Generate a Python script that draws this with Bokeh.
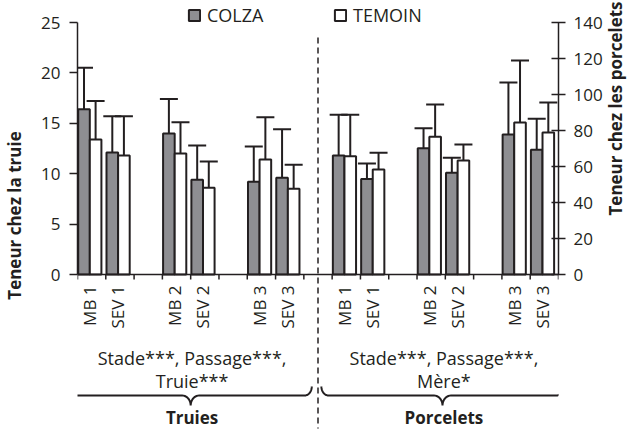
import math
from bokeh.plotting import figure
from bokeh.models import (Range1d, LinearAxis, FixedTicker, Whisker, TeeHead, Label,
                          Legend, LegendItem, PolyAnnotation, Arrow, ColumnDataSource, Span)
from bokeh.embed import file_html
from bokeh.resources import INLINE
from bokeh.core.properties import value

# ---------------- data ----------------
stages = ["MB 1", "SEV 1", "MB 2", "SEV 2", "MB 3", "SEV 3"]
series = ["COLZA", "TEMOIN"]
groups = ["Truies", "Porcelets"]
group_notes_1 = ["Stade***, Passage***,", "Stade***, Passage***,"]
group_notes_2 = ["Truie***", "Mère*"]

truie_colza = [16.4, 12.1, 14.0, 9.4, 9.2, 9.6]
truie_colza_sd = [4.1, 3.6, 3.4, 3.4, 3.5, 4.8]
truie_temoin = [13.4, 11.8, 12.0, 8.6, 11.4, 8.5]
truie_temoin_sd = [3.8, 3.9, 3.1, 2.6, 4.2, 2.4]

porc_colza = [66.1, 53.0, 70.2, 56.5, 77.8, 69.3]
porc_colza_sd = [22.6, 8.7, 11.1, 8.3, 28.9, 17.2]
porc_temoin = [65.7, 58.3, 76.5, 63.3, 84.4, 78.9]
porc_temoin_sd = [23.0, 9.3, 17.9, 8.9, 34.5, 16.7]

left_ticks = [0, 5, 10, 15, 20, 25]
right_ticks = [0, 20, 40, 60, 80, 100, 120, 140]

# ---------------- layout helpers ----------------
FONT = "Open Sans"
INK = "#231f20"
GRAY = "#8e8e92"
N_SLOTS = 17
W, H = 641, 430
FRAME_L, FRAME_R = 76, 567
Y0_PX, Y25_PX = 274, 22              # pixel rows of 0 and 25 on the left scale
PXU = (Y0_PX - Y25_PX) / 25.0
RATIO = 140 / 25.0
y_top = 25 + Y25_PX / PXU
y_bot = -(H - Y0_PX) / PXU


def slot(g, s):
    return g * 9 + (s // 2) * 3 + s % 2


centers = [slot(g, s) + 0.5 for g in range(2) for s in range(len(stages))]
labels = [stages[s] for g in range(2) for s in range(len(stages))]
boundaries = list(range(N_SLOTS + 1))

OFF = {"COLZA": 0.23, "TEMOIN": 0.64}
BAR_W = 0.41

p = figure(width=W, height=H, x_range=Range1d(0, N_SLOTS), y_range=Range1d(y_bot, y_top),
           output_backend="svg", toolbar_location=None, x_axis_location=None,
           min_border_left=FRAME_L, min_border_right=W - FRAME_R, min_border_top=0,
           min_border_bottom=0)
p.extra_y_ranges = {"porc": Range1d(y_bot * RATIO, y_top * RATIO)}
p.outline_line_color = None
p.xgrid.visible = False
p.ygrid.visible = False
p.background_fill_color = "white"
p.border_fill_color = "white"

renderers = {}
data = [
    (0, "default", truie_colza, truie_colza_sd, truie_temoin, truie_temoin_sd),
    (1, "porc", porc_colza, porc_colza_sd, porc_temoin, porc_temoin_sd),
]
for g, rng, c_vals, c_sd, t_vals, t_sd in data:
    for name, vals, sd, fill in (("COLZA", c_vals, c_sd, GRAY), ("TEMOIN", t_vals, t_sd, "white")):
        xs = [slot(g, s) + OFF[name] for s in range(len(stages))]
        src = ColumnDataSource(dict(x=xs, top=vals, upper=[v + e for v, e in zip(vals, sd)]))
        r = p.vbar(x="x", top="top", bottom=0, width=BAR_W, source=src, fill_color=fill,
                   line_color=INK, line_width=2, y_range_name=rng)
        renderers.setdefault(name, r)
        w = Whisker(base="x", upper="upper", lower="top", source=src, dimension="height",
                    y_range_name=rng, line_color=INK, line_width=2,
                    upper_head=TeeHead(size=18, line_color=INK, line_width=2), lower_head=None)
        p.add_layout(w)

# ---------------- x axis (category axis drawn on the y=0 baseline) ----------------
p.add_layout(Span(location=0, dimension="width", line_color=INK, line_width=1.5))
p.segment(x0=boundaries, y0=[0] * len(boundaries), x1=boundaries,
          y1=[-5 / PXU] * len(boundaries), line_color=INK, line_width=1.5)
p.text(x=[c - 0.07 for c in centers], y=[-11 / PXU] * len(centers), text=labels,
       angle=math.pi / 2, text_align="right", text_baseline="middle",
       text_font=value(FONT), text_font_size="17px", text_color=INK)

# ---------------- y axes ----------------
ya = p.yaxis[0]
ya.ticker = FixedTicker(ticks=left_ticks)
ya.bounds = (0, 25)
ya.major_tick_out = 8
ya.major_tick_in = 0
ya.major_label_standoff = 9
ya.axis_label = "Teneur chez la truie"
ya.axis_label_standoff = 12

ra = LinearAxis(y_range_name="porc", ticker=FixedTicker(ticks=right_ticks))
ra.bounds = (0, 140)
ra.major_tick_out = 7
ra.major_tick_in = 7
ra.major_label_standoff = 8
ra.axis_label = "Teneur chez les porcelets"
ra.axis_label_standoff = 10
if "axis_label_orientation" in LinearAxis.properties():
    ra.axis_label_orientation = math.pi / 2
p.add_layout(ra, "right")

for ax in (ya, ra):
    ax.major_label_text_font = FONT
    ax.major_label_text_font_size = "17px"
    ax.major_label_text_color = INK
    ax.axis_label_text_font = FONT
    ax.axis_label_text_font_size = "17px"
    ax.axis_label_text_font_style = "bold"
    ax.axis_label_text_color = INK
    ax.axis_line_color = INK
    ax.axis_line_width = 1.5
    ax.major_tick_line_color = INK
    ax.major_tick_line_width = 1.5
    ax.minor_tick_line_color = None

# ---------------- legend ----------------
for name, xloc in (("COLZA", 110), ("TEMOIN", 256)):
    leg = Legend(items=[LegendItem(label=name, renderers=[renderers[name]])],
                 location=(xloc, H - 27), padding=0, margin=0, border_line_color=None,
                 background_fill_alpha=0, glyph_width=14, glyph_height=14, label_height=14,
                 label_standoff=6, label_text_font=FONT, label_text_font_size="18px",
                 label_text_color=INK, label_text_baseline="middle")
    p.add_layout(leg)

# ---------------- separator & group annotations ----------------
p.add_layout(Arrow(end=None, x_start=8.5, y_start=(Y0_PX - 37) / PXU, x_end=8.5,
                   y_end=(Y0_PX - 428) / PXU, line_color=INK, line_width=1.5,
                   line_dash="6 4"))

group_centers = [4.0, 12.9]


def ypx(py):
    return (Y0_PX - py) / PXU


def brace(cx, half, y_end, y_mid, y_tip, r=0.25, r2=0.3, n=10):
    pts = []
    x0 = cx - half
    for i in range(n + 1):
        th = math.pi + (math.pi / 2) * i / n
        pts.append((x0 + r + r * math.cos(th), y_end + (y_end - y_mid) * math.sin(th)))
    for i in range(n + 1):
        th = math.pi / 2 - (math.pi / 2) * i / n
        pts.append((cx - r2 + r2 * math.cos(th), y_tip + (y_mid - y_tip) * math.sin(th)))
    right = [(2 * cx - x, y) for x, y in reversed(pts)]
    return pts + right


for g, cx in enumerate(group_centers):
    pts = brace(cx, 4.28, ypx(386), ypx(395), ypx(405))
    path = pts + pts[::-1]
    p.add_layout(PolyAnnotation(xs=[q[0] for q in path], ys=[q[1] for q in path],
                                fill_alpha=0, line_color=INK, line_alpha=1.0, line_width=2))
    p.add_layout(Label(x=cx + 0.05, y=ypx(357), text=group_notes_1[g], text_align="center",
                       text_baseline="middle", text_font=FONT, text_font_size="18px",
                       text_color=INK))
    p.add_layout(Label(x=cx + 0.05, y=ypx(380), text=group_notes_2[g], text_align="center",
                       text_baseline="middle", text_font=FONT, text_font_size="18px",
                       text_color=INK))
    p.add_layout(Label(x=cx + 0.05, y=ypx(417), text=groups[g], text_align="center",
                       text_baseline="middle", text_font=FONT, text_font_size="17px",
                       text_font_style="bold", text_color=INK))

open("out.html", "w").write(file_html(p, INLINE))
